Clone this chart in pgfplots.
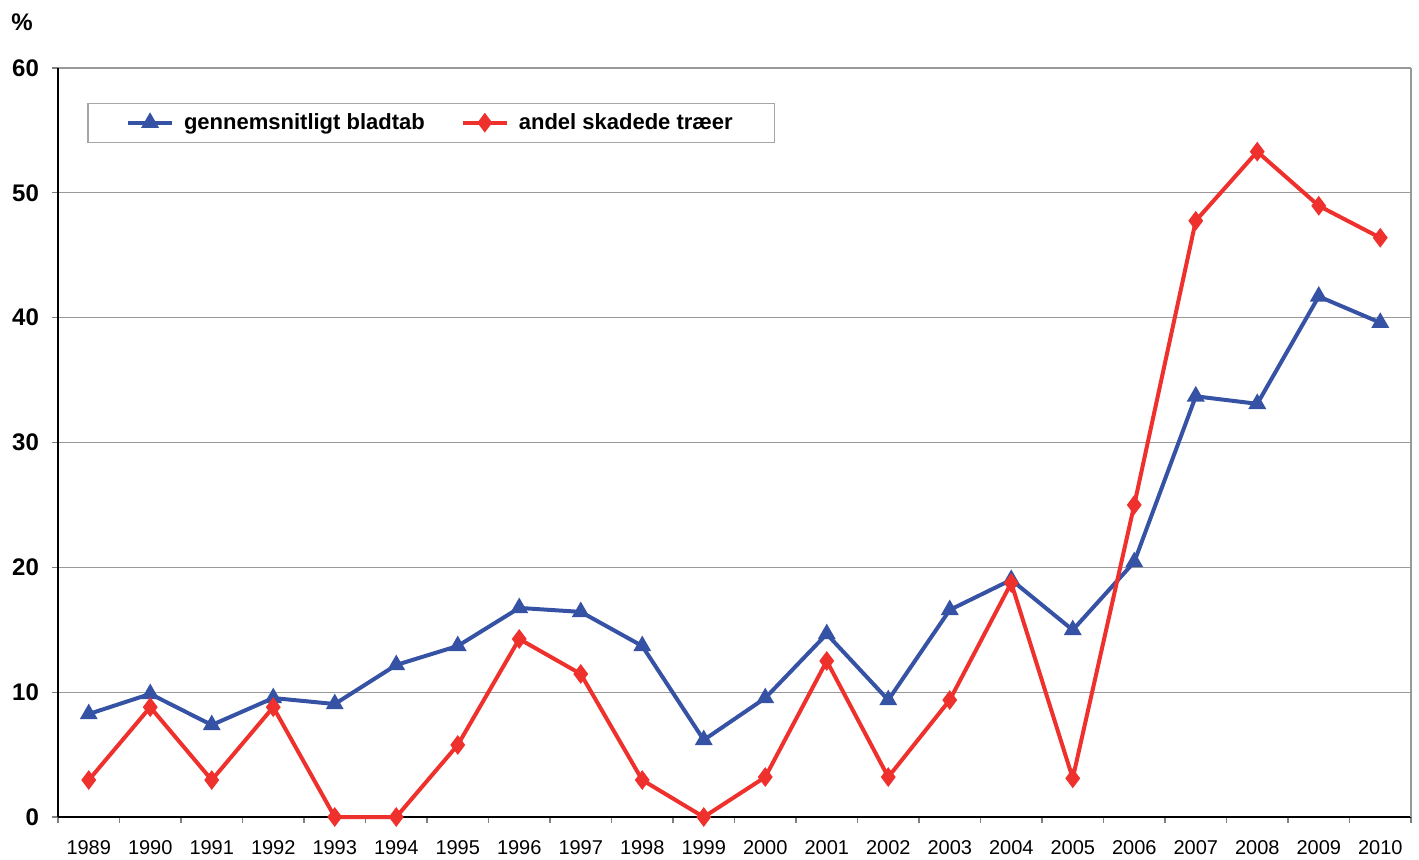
\documentclass[border=0pt]{standalone}
\usepackage{pgfplots}
\pgfplotsset{compat=1.18}
\usepackage{fontspec}
\setmainfont{Liberation Sans}
\definecolor{sblue}{RGB}{54,82,164}
\definecolor{sred}{RGB}{238,49,45}
\begin{document}
\begin{tikzpicture}
\path[use as bounding box] (-29pt,-21pt) rectangle (680.5pt,408.5pt);
\begin{axis}[
  scale only axis, width=676.5pt, height=374.5pt,
  xmin=-0.5, xmax=21.5, ymin=0, ymax=60,
  axis x line*=bottom, axis y line*=left,
  axis line style={black, line width=0.9pt, -},
  xtick={0,...,21},
  xticklabels={1989,1990,1991,1992,1993,1994,1995,1996,1997,1998,1999,2000,2001,2002,2003,2004,2005,2006,2007,2008,2009,2010},
  major x tick style={draw=none},
  minor xtick={-0.5,0.5,...,21.5},
  minor tick length=3pt,
  minor x tick style={gray, line width=0.6pt},
  xtick align=outside,
  ytick={0,10,...,60},
  ytick align=outside,
  major tick length=3pt,
  major y tick style={gray, line width=0.6pt},
  ymajorgrids,
  grid style={gray!80, line width=0.6pt},
  xticklabel style={font=\fontsize{10pt}{12pt}\selectfont, yshift=-5pt},
  yticklabel style={font=\fontsize{12pt}{14pt}\selectfont\bfseries, xshift=-3pt},
  /pgf/number format/assume math mode=true,
  clip=false,
  legend columns=2,
  legend style={at={(0.276,0.927)}, anchor=center, draw=gray!70, line width=0.6pt,
    font=\fontsize{11pt}{13pt}\selectfont\bfseries,
    inner xsep=19pt, inner ysep=3pt,
    /tikz/every odd column/.append style={column sep=3pt},
    /tikz/every even column/.append style={column sep=16pt}},
  legend image code/.code={\draw[#1, mark repeat=2, mark phase=2] plot coordinates {(0pt,0pt) (11pt,0pt) (22pt,0pt)};},
]
\draw[gray!80, line width=0.9pt] (rel axis cs:1,0) -- (rel axis cs:1,1);
\addplot[sblue, line width=2pt, mark=triangle*, mark size=3.2pt, mark options={solid}] coordinates {
(0,8.25) (1,9.86) (2,7.37) (3,9.53) (4,9.05) (5,12.18) (6,13.7) (7,16.75) (8,16.43) (9,13.7) (10,6.17)
(11,9.53) (12,14.66) (13,9.37) (14,16.59) (15,19.0) (16,14.98) (17,20.43) (18,33.7) (19,33.1) (20,41.7) (21,39.6)};
\addlegendentry{gennemsnitligt bladtab}
\addplot[sred, line width=2pt, mark=diamond*, mark size=3.3pt, mark options={solid}] coordinates {
(0,2.96) (1,8.8) (2,2.96) (3,8.8) (4,0) (5,0) (6,5.77) (7,14.26) (8,11.46) (9,2.96) (10,0)
(11,3.2) (12,12.5) (13,3.2) (14,9.37) (15,18.75) (16,3.1) (17,25.0) (18,47.76) (19,53.3) (20,48.96) (21,46.4)};
\addlegendentry{andel skadede træer}
\node[font=\fontsize{12pt}{14pt}\selectfont\bfseries] at ([xshift=-18pt]rel axis cs:0,1) [yshift=23pt] {\%};
\end{axis}
\end{tikzpicture}
\end{document}
